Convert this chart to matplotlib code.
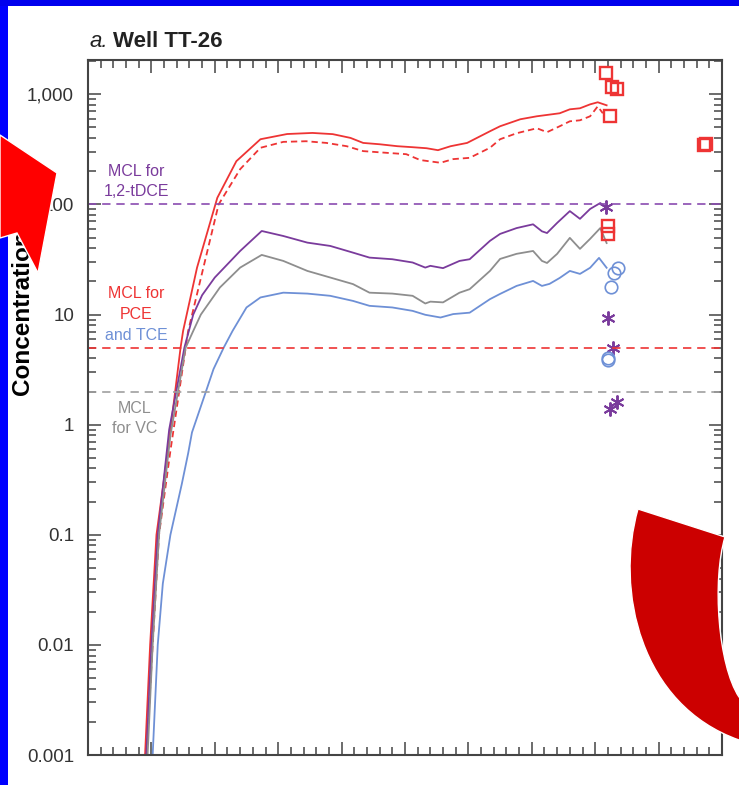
import matplotlib
matplotlib.use('Agg')
import matplotlib.pyplot as plt
from matplotlib.patches import Polygon, Rectangle, PathPatch
from matplotlib.path import Path
from matplotlib.ticker import FixedLocator, MultipleLocator, NullFormatter

# ===========================
# simulated concentrations (ug/L) by year
# ===========================
PCE_YEARS = [1954.5, 1954.9, 1955.4, 1956.3, 1957.3, 1957.5, 1958.6, 1960.2, 1961.7,
             1963.6, 1965.7, 1967.7, 1969.3, 1970.7, 1971.7, 1973.0, 1974.4, 1975.6,
             1976.7, 1977.6, 1978.6, 1979.9, 1981.7, 1982.5, 1984.1, 1985.4, 1987.2,
             1988.0, 1988.8, 1989.6, 1990.2, 1990.9]
PCE_CONC = [0.001, 0.01, 0.1, 0.58, 5.0, 7.1, 26.7, 115, 247,
            391, 436, 446, 435, 402, 362, 352, 338, 331,
            324, 311, 338, 362, 462, 513, 594, 632, 673,
            731, 747, 811, 847, 795]

PCE2_YEARS = [1954.6, 1955.1, 1955.6, 1956.5, 1957.9, 1959.1, 1960.3, 1962.0, 1963.6,
              1965.4, 1967.2, 1968.8, 1970.4, 1971.7, 1973.6, 1975.1, 1976.2, 1977.8,
              1978.8, 1980.1, 1981.7, 1982.5, 1983.8, 1985.4, 1986.2, 1987.2, 1988.0,
              1988.8, 1989.6, 1990.2, 1990.6]
PCE2_CONC = [0.001, 0.01, 0.1, 0.58, 7.1, 26.7, 100, 209, 327,
             370, 375, 362, 338, 305, 294, 286, 253, 239,
             258, 265, 327, 391, 443, 492, 453, 513, 569,
             581, 632, 778, 673]

DCE_YEARS = [1954.6, 1955.0, 1955.5, 1956.4, 1957.6, 1958.3, 1959.0, 1960.0, 1962.0,
             1963.7, 1965.4, 1967.3, 1969.1, 1970.9, 1972.2, 1974.0, 1975.6, 1976.6,
             1977.0, 1978.0, 1979.3, 1980.1, 1981.7, 1982.5, 1983.8, 1985.1, 1985.8,
             1986.2, 1987.0, 1988.0, 1988.8, 1989.6, 1990.4, 1990.9]
DCE_CONC = [0.001, 0.01, 0.1, 0.9, 5.0, 10.0, 15.0, 21.7, 37.8,
            57.4, 51.7, 45, 42, 36.5, 32.9, 31.8, 29.7, 26.7,
            27.7, 26.4, 30.7, 31.8, 46.7, 54, 61, 66, 57,
            55, 68, 87, 74, 91, 103, 93]

VC_YEARS = [1954.7, 1955.1, 1955.6, 1956.5, 1957.7, 1958.3, 1958.9, 1960.4, 1962.0,
            1963.7, 1965.4, 1967.3, 1969.1, 1970.9, 1972.2, 1974.0, 1975.6, 1976.6,
            1977.0, 1978.0, 1979.3, 1980.1, 1981.7, 1982.5, 1983.8, 1985.1, 1985.8,
            1986.2, 1987.0, 1988.0, 1988.8, 1989.6, 1990.4, 1990.9]
VC_CONC = [0.001, 0.01, 0.1, 0.8, 5.0, 7.1, 10.0, 17.6, 26.7,
           34.8, 30.7, 24.9, 21.7, 18.9, 15.8, 15.5, 14.8, 12.6,
           13.1, 12.9, 15.8, 17.0, 24.9, 32, 35.6, 37.8, 30.7,
           29.4, 35.6, 49.7, 39.5, 48.7, 61, 44.6]

TCE_YEARS = [1955.1, 1955.5, 1955.9, 1956.5, 1957.4, 1957.9, 1958.2, 1959.3, 1959.9,
             1960.7, 1961.4, 1962.5, 1963.6, 1965.4, 1967.3, 1969.1, 1970.9, 1972.2,
             1974.0, 1975.6, 1976.6, 1977.8, 1978.8, 1980.1, 1981.7, 1982.5, 1983.8,
             1985.1, 1985.8, 1986.4, 1987.2, 1988.0, 1988.8, 1989.6, 1990.3, 1990.9]
TCE_CONC = [0.001, 0.01, 0.036, 0.1, 0.29, 0.55, 0.85, 2.0, 3.2,
            5.0, 7.1, 11.6, 14.3, 15.8, 15.5, 14.8, 13.3, 12.0,
            11.6, 10.8, 9.95, 9.4, 10.1, 10.4, 13.8, 15.4, 18.2,
            20.2, 18.2, 19.0, 21.5, 24.9, 23.4, 26.6, 32.7, 26.6]

# ===========================
# measured concentrations
# ===========================
PCE_OBS_YEARS = [1990.85, 1991.3, 1991.7, 1991.2, 1998.6, 1998.75, 1991.0, 1991.0]
PCE_OBS_CONC = [1549, 1157, 1110, 632, 350, 355, 64, 54]
DCE_OBS_YEARS = [1990.85, 1991.0, 1991.4, 1991.2, 1991.7]
DCE_OBS_CONC = [94.7, 9.35, 5.0, 1.40, 1.59]
TCE_OBS_YEARS = [1991.8, 1991.5, 1991.25, 1991.0, 1991.0]
TCE_OBS_CONC = [26.5, 23.9, 17.9, 4.06, 3.9]

# maximum contaminant levels
MCL_DCE = 100
MCL_PCE_TCE = 5
MCL_VC = 2

Y_TICKS = [0.001, 0.01, 0.1, 1, 10, 100, 1000]
Y_LABELS = ['0.001', '0.01', '0.1', '1', '10', '100', '1,000']

RED = '#EE3434'
PURPLE = '#7A3B9C'
GRAY = '#8E8E8E'
BLUE = '#6E90D6'
AXC = '#444444'
FONT = ['Liberation Sans', 'DejaVu Sans']

W, H = 739, 785
fig = plt.figure(figsize=(W / 100, H / 100), dpi=100)
fig.patch.set_facecolor('white')

ax = fig.add_axes([88 / W, 1 - 755 / H, 634 / W, 695 / H])
ax.set_yscale('log')
ax.set_ylim(0.001, 2050)
ax.set_xlim(1950, 2000)

lw = 1.3
ax.plot(PCE_YEARS, PCE_CONC, color=RED, lw=lw)
ax.plot(PCE2_YEARS, PCE2_CONC, color=RED, lw=lw, dashes=(3.5, 2.2))
ax.plot(DCE_YEARS, DCE_CONC, color=PURPLE, lw=lw)
ax.plot(VC_YEARS, VC_CONC, color=GRAY, lw=lw)
ax.plot(TCE_YEARS, TCE_CONC, color=BLUE, lw=lw)

ax.plot(PCE_OBS_YEARS, PCE_OBS_CONC, ls='none', marker='s', ms=8.5,
        mfc='none', mec=RED, mew=1.7)
ax.plot(DCE_OBS_YEARS, DCE_OBS_CONC, ls='none', marker=(6, 2, 0), ms=10,
        color=PURPLE, mew=1.4)
ax.plot(TCE_OBS_YEARS, TCE_OBS_CONC, ls='none', marker='o', ms=9,
        mfc='none', mec=BLUE, mew=1.2)

# MCL reference lines
ax.axhline(MCL_DCE, color='#8A4CB0', lw=1.2, dashes=(5, 3.5))
ax.axhline(MCL_PCE_TCE, color=RED, lw=1.2, dashes=(5, 3.5))
ax.axhline(MCL_VC, color='#A0A0A0', lw=1.2, dashes=(5, 3.5))

lbl = dict(ha='center', va='center', fontsize=11.5, family=FONT)
ax.text(1953.8, 201, 'MCL for', color=PURPLE, **lbl)
ax.text(1953.8, 131, '1,2-tDCE', color=PURPLE, **lbl)
ax.text(1953.8, 15.4, 'MCL for', color=RED, **lbl)
ax.text(1953.8, 10.1, 'PCE', color=RED, **lbl)
ax.text(1953.8, 6.4, 'and TCE', color=BLUE, **lbl)
ax.text(1953.7, 1.40, 'MCL', color=GRAY, **lbl)
ax.text(1953.7, 0.92, 'for VC', color=GRAY, **lbl)

# axes frame and ticks
for sp in ax.spines.values():
    sp.set_color(AXC)
    sp.set_linewidth(1.5)
ax.yaxis.set_major_locator(FixedLocator(Y_TICKS))
ax.set_yticklabels(Y_LABELS)
ax.xaxis.set_major_locator(MultipleLocator(5))
ax.xaxis.set_minor_locator(MultipleLocator(1))
ax.xaxis.set_major_formatter(NullFormatter())
ax.yaxis.set_minor_formatter(NullFormatter())
ax.tick_params(which='both', direction='in', top=True, right=True,
               color=AXC, width=1.1)
ax.tick_params(which='major', length=9.5)
ax.tick_params(which='minor', length=5.5)
ax.tick_params(axis='y', which='major', labelsize=13.5, labelcolor='#333333', pad=10)
for t in ax.get_yticklabels():
    t.set_family(FONT)

# title
ax.text(0.003, 1.019, 'a.', transform=ax.transAxes, fontsize=16, style='italic',
        family=FONT, color='#222222', va='baseline')
ax.text(0.039, 1.019, 'Well TT-26', transform=ax.transAxes, fontsize=16,
        weight='bold', family=FONT, color='#222222', va='baseline')

fig.text(23 / W, 1 - 395 / H, 'Concentration', rotation=90, ha='center', va='bottom',
         fontsize=17.5, weight='bold', family=FONT, color='black', zorder=5)


def fpx(pts):
    return [(x / W, 1 - y / H) for x, y in pts]


# slide frame
fig.patches.append(Rectangle((0, 0), 8 / W, 1, transform=fig.transFigure,
                             facecolor='#0000FF', edgecolor='none', zorder=8))
fig.patches.append(Rectangle((0, 1 - 6 / H), 1, 6 / H, transform=fig.transFigure,
                             facecolor='#0000EE', edgecolor='none', zorder=8))

# callout arrows
fig.patches.append(Polygon(fpx([(0, 135), (57, 173), (38, 273), (17, 233), (0, 238)]),
                           closed=True, transform=fig.transFigure,
                           facecolor='#FF0000', edgecolor='white', lw=1, zorder=10))

arc_pts = fpx([(638, 509), (615, 590), (640, 705), (739, 740),
               (760, 742), (760, 697), (739, 697),
               (718, 665), (712, 580), (725, 537), (638, 509)])
arc_codes = [Path.MOVETO, Path.CURVE4, Path.CURVE4, Path.CURVE4,
             Path.LINETO, Path.LINETO, Path.LINETO,
             Path.CURVE4, Path.CURVE4, Path.CURVE4, Path.CLOSEPOLY]
fig.patches.append(PathPatch(Path(arc_pts, arc_codes), transform=fig.transFigure,
                             facecolor='#CC0000', edgecolor='white', lw=1, zorder=10))

plt.savefig('out.png', dpi=100)
plt.close()
